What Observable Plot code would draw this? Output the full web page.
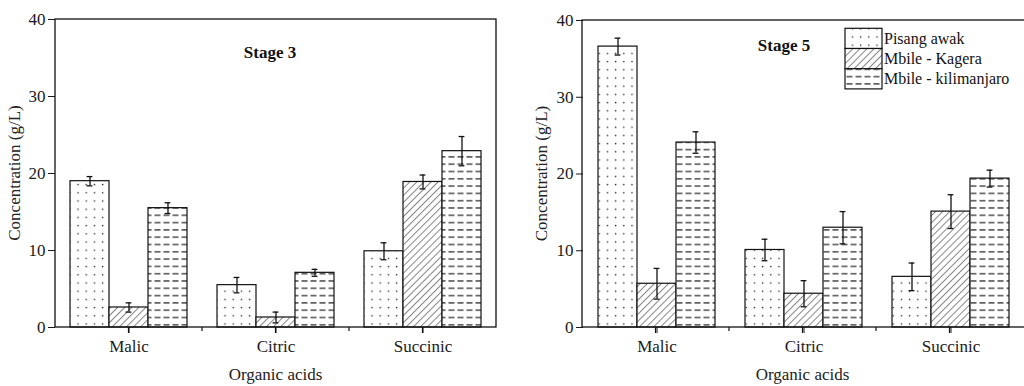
<!DOCTYPE html>
<html>
<head>
<meta charset="utf-8">
<script src="https://cdn.jsdelivr.net/npm/d3@7"></script>
<script src="https://cdn.jsdelivr.net/npm/@observablehq/plot@0.6"></script>
<style>
  html, body { margin: 0; padding: 0; background: white; }
  #wrap { display: flex; width: 1024px; height: 386px; overflow: hidden; }
  #wrap svg text { font-family: 'Liberation Serif', 'Times New Roman', serif; }
</style>
</head>
<body>
<svg width="0" height="0" style="position:absolute">
  <defs>
    <pattern id="pat-dots" patternUnits="userSpaceOnUse" width="8.2" height="8.2">
      <rect width="8.2" height="8.2" fill="white"></rect>
      <rect x="3.5" y="3.5" width="1.4" height="1.4" fill="#333"></rect>
    </pattern>
    <pattern id="pat-hatch" patternUnits="userSpaceOnUse" width="5" height="5" patternTransform="rotate(45)">
      <rect width="5" height="5" fill="white"></rect>
      <line x1="0" y1="0" x2="0" y2="5" stroke="#222" stroke-width="1.1"></line>
    </pattern>
    <pattern id="pat-dash" patternUnits="userSpaceOnUse" width="9" height="7.3">
      <rect width="9" height="7.3" fill="white"></rect>
      <rect x="1.5" y="3" width="6" height="1.2" fill="#222"></rect>
    </pattern>
  </defs>
</svg>
<div id="wrap"></div>
<script>
// ---- data ----
const acids = ["Malic", "Citric", "Succinic"];
const cultivars = ["Pisang awak", "Mbile - Kagera", "Mbile - kilimanjaro"];
const patterns = ["url(#pat-dots)", "url(#pat-hatch)", "url(#pat-dash)"];

// Stage 3 (g/L), one value per acid
const stage3Pisang = [19.0, 5.5, 9.9];
const stage3Kagera = [2.6, 1.3, 18.9];
const stage3Kili = [15.5, 7.1, 22.9];
const stage3PisangErr = [0.6, 1.0, 1.1];
const stage3KageraErr = [0.6, 0.7, 0.9];
const stage3KiliErr = [0.7, 0.45, 1.9];

// Stage 5 (g/L)
const stage5Pisang = [36.6, 10.1, 6.6];
const stage5Kagera = [5.7, 4.4, 15.1];
const stage5Kili = [24.1, 13.0, 19.4];
const stage5PisangErr = [1.1, 1.4, 1.8];
const stage5KageraErr = [2.0, 1.7, 2.2];
const stage5KiliErr = [1.4, 2.1, 1.1];

const yTicks = [0, 10, 20, 30, 40];
const yTitle = "Concentration (g/L)";
const xTitle = "Organic acids";

function buildRows(series, errs) {
  const rows = [];
  acids.forEach((a, i) => {
    cultivars.forEach((c, j) => {
      rows.push({acid: a, cultivar: c, value: series[j][i], err: errs[j][i]});
    });
  });
  return rows;
}

const FONT = "'Liberation Serif', 'Times New Roman', serif";

function panel(rows, opts) {
  const width = 512, height = 386;
  const marks = [];
  cultivars.forEach((c, j) => {
    marks.push(Plot.barY(rows, {
      filter: d => d.cultivar === c,
      x: "cultivar", y: "value",
      fill: patterns[j], stroke: "#111", strokeWidth: 1.2
    }));
  });
  marks.push(Plot.ruleX(rows, {x: "cultivar", y1: d => d.value - d.err, y2: d => d.value + d.err, stroke: "#111", strokeWidth: 1.3}));
  marks.push(Plot.tickY(rows, {x: "cultivar", y: d => d.value + d.err, stroke: "#111", strokeWidth: 1.3, insetLeft: 16.6, insetRight: 16.6}));
  marks.push(Plot.tickY(rows, {x: "cultivar", y: d => d.value - d.err, stroke: "#111", strokeWidth: 1.3, insetLeft: 16.6, insetRight: 16.6}));

  const chart = Plot.plot({
    width, height,
    marginLeft: opts.ml, marginRight: opts.mr, marginTop: opts.mt, marginBottom: height - 327,
    style: {fontFamily: FONT, fontSize: "17px", color: "#1a1a1a", background: "white", overflow: "visible"},
    facet: {data: rows, x: "acid"},
    fx: {domain: acids, padding: 0, axis: "bottom", tickSize: 6, tickPadding: 6, label: null},
    x: {domain: cultivars, paddingInner: 0, paddingOuter: 0.36, axis: null},
    y: {domain: [0, 40], ticks: yTicks, tickSize: 7, tickPadding: 3, label: null},
    marks
  });

  const svg = d3.select(chart.tagName.toLowerCase() === "svg" ? chart : chart.querySelector("svg"));
  const x0 = opts.ml, x1 = width - opts.mr, y0 = opts.mt, y1 = 327;
  // frame box
  svg.append("rect").attr("x", x0).attr("y", y0).attr("width", x1 - x0 + (opts.mr === 0 ? 20 : 0)).attr("height", y1 - y0)
    .attr("fill", "none").attr("stroke", "#111").attr("stroke-width", 1.3);
  // ticks at group centres and boundaries (from the fx scale)
  let fxs = null;
  try { fxs = chart.scale("fx"); } catch (e) {}
  const step = fxs && fxs.step ? fxs.step : (x1 - x0) / acids.length;
  const start = fxs && fxs.range ? fxs.range[0] : x0;
  for (let i = 0; i < acids.length; i++) {
    const cx = start + (i + 0.5) * step;
    svg.append("line").attr("x1", cx).attr("x2", cx).attr("y1", y1).attr("y2", y1 + 6)
      .attr("stroke", "#111").attr("stroke-width", 1.2);
    if (i > 0) {
      const bx = start + i * step;
      svg.append("line").attr("x1", bx).attr("x2", bx).attr("y1", y1).attr("y2", y1 + 4)
        .attr("stroke", "#111").attr("stroke-width", 1.2);
    }
  }
  // axis titles
  svg.append("text").attr("text-anchor", "middle")
    .attr("transform", `translate(${x0 - 35},${(y0 + y1) / 2}) rotate(-90)`)
    .attr("font-size", 17).attr("fill", "#222").text(yTitle);
  svg.append("text").attr("text-anchor", "middle")
    .attr("x", start + step * acids.length / 2).attr("y", 380)
    .attr("font-size", 17).attr("fill", "#222").text(xTitle);
  // stage title
  svg.append("text").attr("x", opts.titleX).attr("y", opts.titleY)
    .attr("text-anchor", "middle").attr("font-weight", "bold").attr("font-size", 17)
    .attr("fill", "#111").text(opts.title);
  return {chart, svg};
}

const wrap = document.getElementById("wrap");
const left = panel(buildRows([stage3Pisang, stage3Kagera, stage3Kili], [stage3PisangErr, stage3KageraErr, stage3KiliErr]),
  {ml: 55, mr: 16, mt: 19, title: "Stage 3", titleX: 270, titleY: 57.5});
wrap.appendChild(left.chart);
const right = panel(buildRows([stage5Pisang, stage5Kagera, stage5Kili], [stage5PisangErr, stage5KageraErr, stage5KiliErr]),
  {ml: 70, mr: 0, mt: 20, title: "Stage 5", titleX: 272, titleY: 51});
wrap.appendChild(right.chart);

// legend (inside right panel)
const lg = right.svg.append("g").attr("font-size", 16).attr("text-anchor", "start");
cultivars.forEach((c, j) => {
  const top = 28.3 + j * 20.2;
  lg.append("rect").attr("x", 333).attr("y", top).attr("width", 37).attr("height", 20.2)
    .attr("fill", patterns[j]).attr("stroke", "#111").attr("stroke-width", 1.2);
  lg.append("text").attr("x", 372).attr("y", top + 10.1).attr("dy", "0.35em")
    .attr("fill", "#111").text(c);
});
</script>
</body>
</html>
